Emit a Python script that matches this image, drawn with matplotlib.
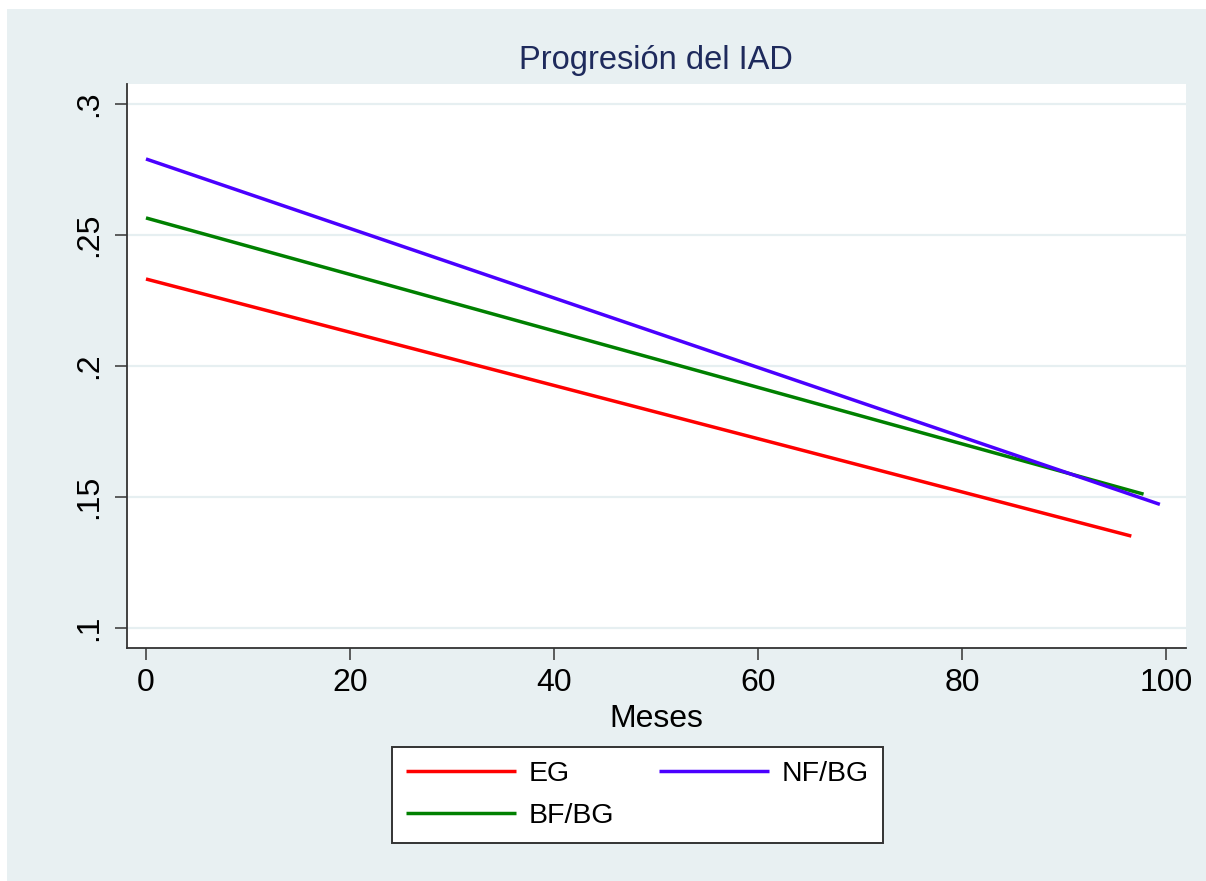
import matplotlib
matplotlib.use("Agg")
import matplotlib.pyplot as plt
from matplotlib.patches import Rectangle

# Data (fitted linear trends)
series_names = ["EG", "BF/BG", "NF/BG"]
x_start = [0, 0, 0]
x_end = [96.6, 97.8, 99.4]
y_start = [0.2332, 0.2565, 0.2790]
y_end = [0.1351, 0.1511, 0.1472]
colors = ["#ff0000", "#008000", "#4a00ff"]

x_ticks = [0, 20, 40, 60, 80, 100]
y_ticks = [0.1, 0.15, 0.2, 0.25, 0.3]
y_tick_labels = [".1", ".15", ".2", ".25", ".3"]

plt.rcParams["font.family"] = ["Liberation Sans", "DejaVu Sans"]

W, H = 1206, 881
fig = plt.figure(figsize=(W / 100, H / 100), dpi=100)
fig.patch.set_facecolor("white")
bg = "#e8f0f2"
fig.patches.append(Rectangle((7 / W, 0), 1 - 7 / W, 1 - 9 / H, transform=fig.transFigure,
                             facecolor=bg, edgecolor="none", zorder=-10))

ax = fig.add_axes([127 / W, 1 - 648 / H, (1186 - 127) / W, (648 - 84) / H])
ax.set_facecolor("white")

for name, xs, xe, ys, ye, c in zip(series_names, x_start, x_end, y_start, y_end, colors):
    ax.plot([xs, xe], [ys, ye], color=c, lw=2.5, label=name, solid_capstyle="butt")

ax.set_xlim(-1.86, 101.96)
ax.set_ylim(0.0924, 0.3076)
ax.set_xticks(x_ticks)
ax.set_yticks(y_ticks)
ax.set_yticklabels(y_tick_labels, rotation=90, va="center")
ax.yaxis.grid(True, color="#e6eff1", lw=1.6)
ax.set_axisbelow(True)

for s in ["top", "right"]:
    ax.spines[s].set_visible(False)
for s in ["left", "bottom"]:
    ax.spines[s].set_color("#333333")
    ax.spines[s].set_linewidth(1.3)

ax.tick_params(axis="both", direction="out", length=8.6, width=1.1, color="#333333",
               labelsize=23, labelcolor="black")
ax.tick_params(axis="y", pad=8)
ax.tick_params(axis="x", pad=6)

ax.set_xlabel("Meses", fontsize=23, labelpad=4)
fig.text(656 / W, 1 - 61 / H, "Progresión del IAD", ha="center", va="center",
         fontsize=23.5, color="#1e2a5c")

handles, labels = ax.get_legend_handles_labels()
leg = fig.legend(handles, labels, ncol=2, loc="upper left",
                 bbox_to_anchor=(392 / W, 1 - 846 / H, (883 - 392) / W, (846 - 747) / H),
                 mode="expand", fontsize=20.5, frameon=True, fancybox=False,
                 handlelength=3.85, handletextpad=0.45, columnspacing=1.7,
                 borderpad=0.5, labelspacing=0.55, borderaxespad=0)
leg.get_frame().set_edgecolor("#333333")
leg.get_frame().set_linewidth(1.4)
leg.get_frame().set_facecolor("white")
leg.get_frame().set_alpha(1)

fig.savefig("out.png", dpi=100, facecolor=fig.get_facecolor())
